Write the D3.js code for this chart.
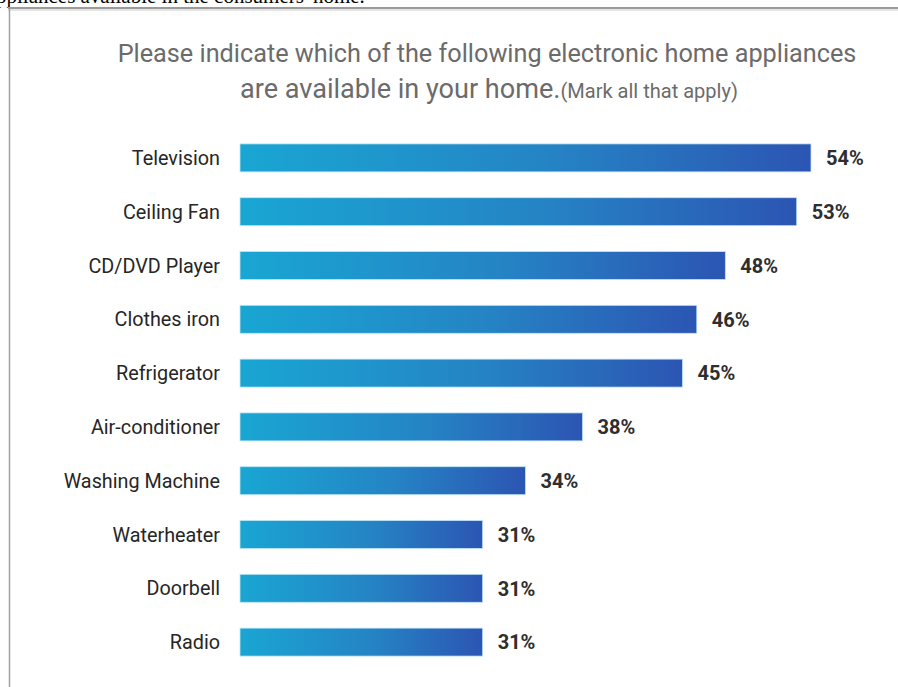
<!DOCTYPE html>
<head>
<meta charset="utf-8">
<style>
body { margin: 0; background: #fff; }
.label { font-family: "Roboto", sans-serif; fill: #262626; }
.value { font-family: "Roboto", sans-serif; font-weight: bold; fill: #2e2e2e; }
.title { font-family: "Roboto", sans-serif; fill: #6b6b6b; }
</style>
</head>
<body>
<script src="https://d3js.org/d3.v7.min.js"></script>
<script>

// data
var appliances = ["Television", "Ceiling Fan", "CD/DVD Player", "Clothes iron", "Refrigerator",
                  "Air-conditioner", "Washing Machine", "Waterheater", "Doorbell", "Radio"];
var shares = [54, 53, 48, 46, 45, 38, 34, 31, 31, 31];
var titleLine1 = "Please indicate which of the following electronic home appliances";
var titleLine2 = "are available in your home.";
var titleNote = "(Mark all that apply)";
var topText = "ppliances available in the consumers' home.";

var width = 898, height = 687;

var svg = d3.select("body").append("svg")
    .attr("width", width)
    .attr("height", height);

// gradient for bars
var grad = svg.append("defs").append("linearGradient")
    .attr("id", "barGrad")
    .attr("x1", "0%").attr("x2", "100%");
grad.append("stop").attr("offset", "0%").attr("stop-color", "#19a6d3");
grad.append("stop").attr("offset", "55%").attr("stop-color", "#2583c4");
grad.append("stop").attr("offset", "100%").attr("stop-color", "#2c55b3");

// cut off text line above the screenshot frame
svg.append("text")
    .attr("x", -4).attr("y", 3)
    .style("font-family", "Liberation Serif, serif")
    .style("font-size", "21px")
    .attr("fill", "#000")
    .text(topText);

// frame lines
svg.append("line").attr("x1", 8).attr("x2", width).attr("y1", 8).attr("y2", 8)
    .attr("stroke", "#9a9a9a").attr("stroke-width", 2);
svg.append("line").attr("x1", 8).attr("x2", width).attr("y1", 10).attr("y2", 10)
    .attr("stroke", "#e4e4e4").attr("stroke-width", 2);
svg.append("line").attr("x1", 9.5).attr("x2", 9.5).attr("y1", 7).attr("y2", height)
    .attr("stroke", "#a0a0a0").attr("stroke-width", 1.5);

// title, sizes fitted to the widths seen in the picture
var t1 = svg.append("text").attr("class", "title")
    .attr("x", 487).attr("y", 62)
    .attr("text-anchor", "middle")
    .style("font-size", "26px")
    .text(titleLine1);
var fs = 26 * 739 / t1.node().getComputedTextLength();
t1.style("font-size", fs + "px");

var t2 = svg.append("text").attr("class", "title")
    .attr("x", 489).attr("y", 98)
    .attr("text-anchor", "middle")
    .style("font-size", fs + "px");
t2.append("tspan").text(titleLine2);
t2.append("tspan").style("font-size", (fs * 0.74) + "px").text(titleNote);
var k = 498 / t2.node().getComputedTextLength();
t2.style("font-size", (fs * k) + "px");
t2.select("tspan:last-child").style("font-size", (fs * k * 0.74) + "px");

// scales
var x = d3.scaleLinear().domain([14, 54]).range([240, 811]);
var y = d3.scaleBand().domain(appliances).range([131, 669]).paddingInner(0.48).paddingOuter(0.24);

var rows = svg.selectAll(".row").data(appliances).enter().append("g").attr("class", "row");

rows.append("rect")
    .attr("x", x(14))
    .attr("y", function(d) { return y(d); })
    .attr("width", function(d, i) { return x(shares[i]) - x(14); })
    .attr("height", y.bandwidth())
    .attr("fill", "url(#barGrad)")
    .attr("stroke", "#bfe6f5")
    .attr("stroke-width", 0.8);

rows.append("text").attr("class", "label")
    .attr("x", 220)
    .attr("y", function(d) { return y(d) + y.bandwidth() / 2; })
    .attr("dy", "0.36em")
    .attr("text-anchor", "end")
    .style("font-size", "19.8px")
    .text(function(d) { return d; });

rows.append("text").attr("class", "value")
    .attr("x", function(d, i) { return x(shares[i]) + 15; })
    .attr("y", function(d) { return y(d) + y.bandwidth() / 2; })
    .attr("dy", "0.36em")
    .style("font-size", "20px")
    .text(function(d, i) { return shares[i] + "%"; });

</script>
</body>
